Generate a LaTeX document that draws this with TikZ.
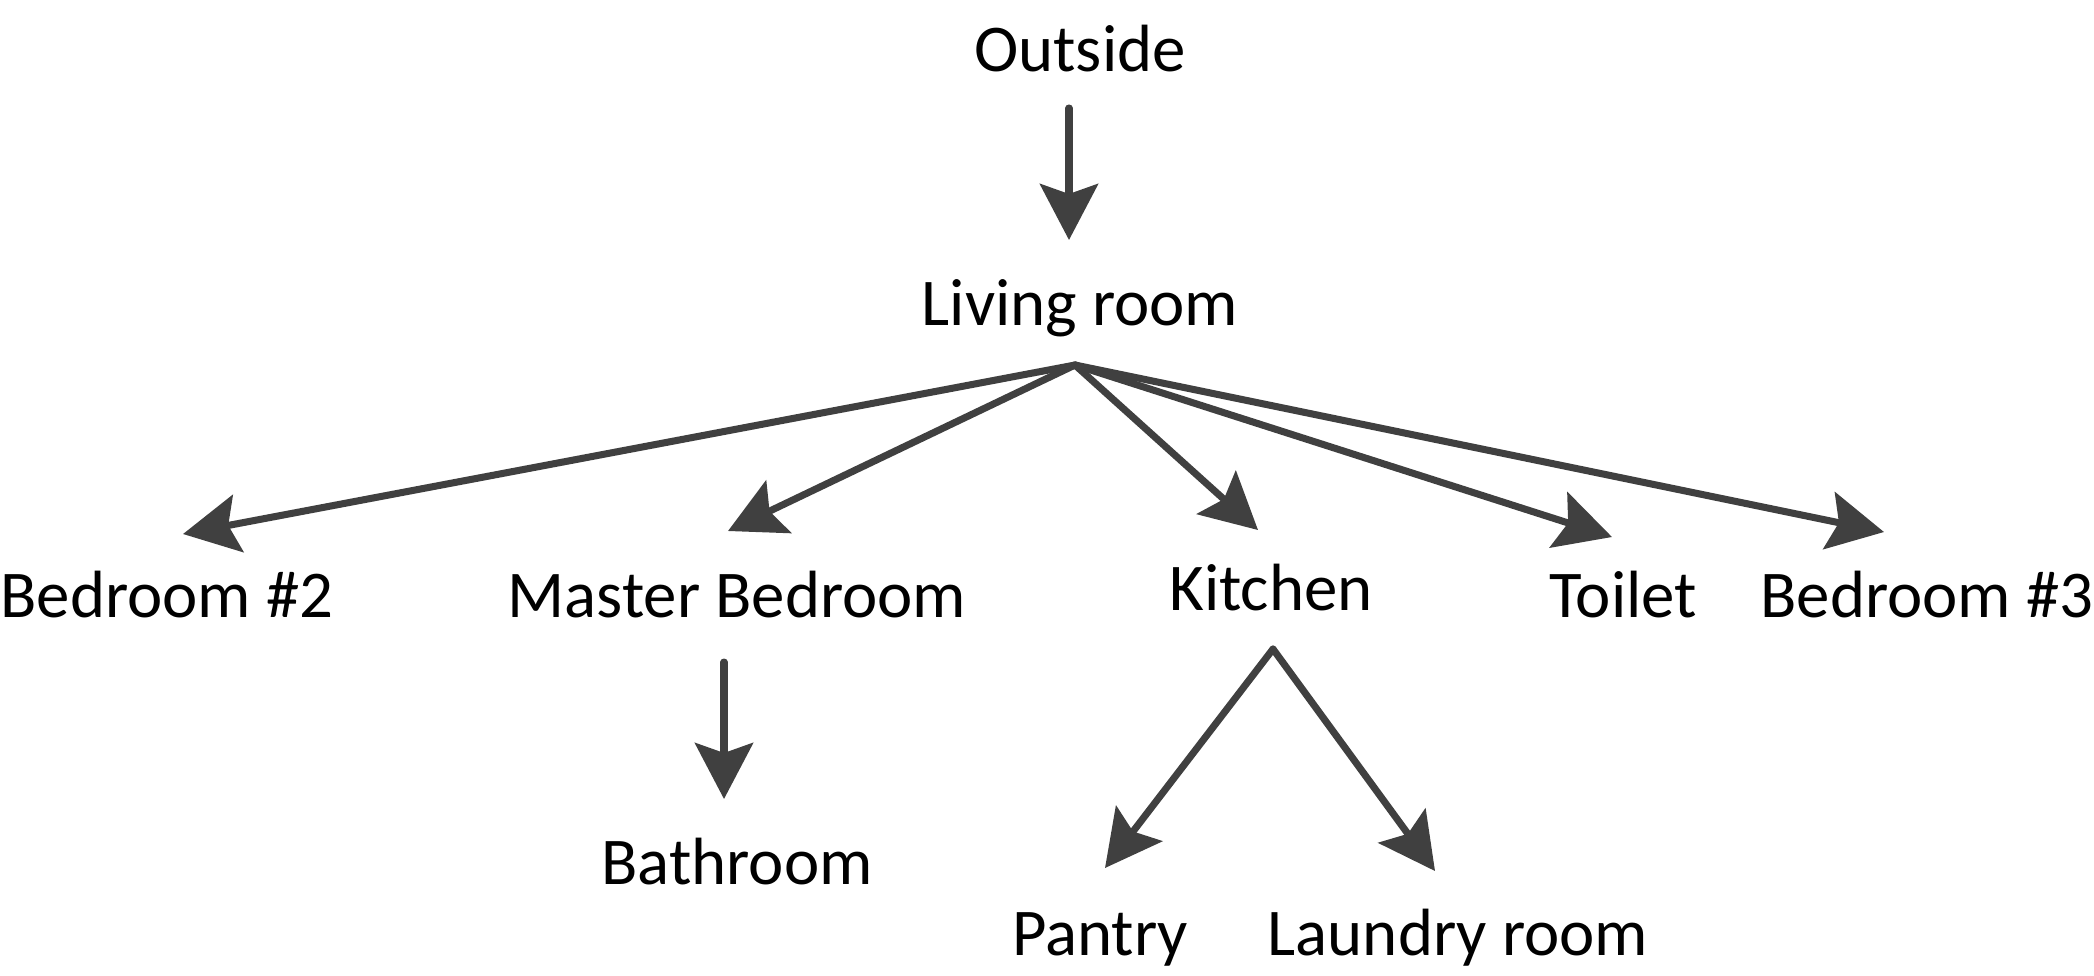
\documentclass[tikz,border=0pt]{standalone}
\usepackage{fontspec}
\setmainfont{Carlito}
\usetikzlibrary{arrows.meta}
\definecolor{ink}{HTML}{404040}
\begin{document}
\begin{tikzpicture}[x=0.01cm,y=-0.01cm,
  lbl/.style={anchor=base,inner sep=0pt,font=\fontsize{19}{22}\selectfont,text=black},
  conn/.style={draw=ink,line width=2pt,line cap=round,
    -{Stealth[length=0.56cm,width=0.58cm,inset=0.1cm]}}]
\useasboundingbox (0,0) rectangle (2094,975);
\node[lbl] (out) at (1080,71) {Outside};
\node[lbl] (liv) at (1080,325) {Living room};
\node[lbl] (b2) at (167,617) {Bedroom \#2};
\node[lbl] (mb) at (737,617) {Master Bedroom};
\node[lbl] (kit) at (1271,610) {Kitchen};
\node[lbl] (toi) at (1623,617) {Toilet};
\node[lbl] (b3) at (1927,617) {Bedroom \#3};
\node[lbl] (bath) at (737,884) {Bathroom};
\node[lbl] (pan) at (1100,955) {Pantry};
\node[lbl] (lau) at (1458,955) {Laundry room};
% connector ends
\coordinate (out-s) at (1069,108);
\coordinate (liv-t) at (1069,240);
\coordinate (liv-s) at (1075,365);
\coordinate (b2-t) at (183,534);
\coordinate (mb-t) at (728,531);
\coordinate (kit-t) at (1258,530);
\coordinate (toi-t) at (1612,537);
\coordinate (b3-t) at (1884,532);
\coordinate (mb-s) at (724,662);
\coordinate (bath-t) at (724,799);
\coordinate (kit-s) at (1273,649);
\coordinate (pan-t) at (1105,868);
\coordinate (lau-t) at (1435,871);
\draw[conn] (out-s) -- (liv-t);
\draw[conn] (liv-s) -- (b2-t);
\draw[conn] (liv-s) -- (mb-t);
\draw[conn] (liv-s) -- (kit-t);
\draw[conn] (liv-s) -- (toi-t);
\draw[conn] (liv-s) -- (b3-t);
\draw[conn] (mb-s) -- (bath-t);
\draw[conn] (kit-s) -- (pan-t);
\draw[conn] (kit-s) -- (lau-t);
\end{tikzpicture}
\end{document}
